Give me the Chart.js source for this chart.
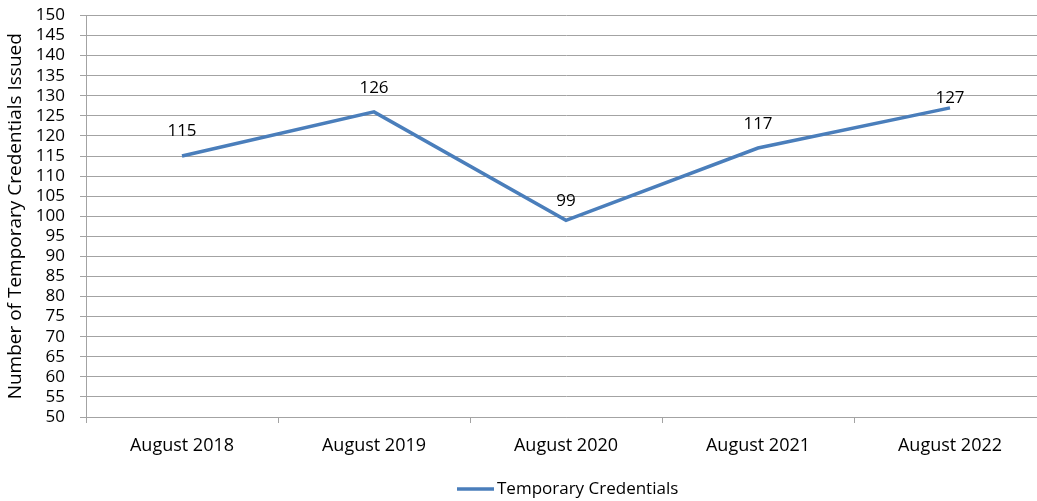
<!DOCTYPE html>
<html>
<head>
<meta charset="utf-8">
<script src="https://cdn.jsdelivr.net/npm/chart.js@4/dist/chart.umd.min.js"></script>
<style>
html,body{margin:0;padding:0;overflow:hidden;background:#fff;}
#wrap{width:1050px;height:501px;position:relative;}
</style>
</head>
<body>
<div id="wrap"><canvas id="c" width="1050" height="501"></canvas></div>
<script>
const categories = ["August 2018","August 2019","August 2020","August 2021","August 2022"];
const seriesLabel = "Temporary Credentials";
const values = [115, 126, 99, 117, 127];
const yMin = 50, yMax = 150, yStep = 5;
const yTitle = "Number of Temporary Credentials Issued";

const FONT = "'Open Sans', sans-serif";
const GRID = "#a3a3a3";
const LINE = "#4a7ebb";

const dataLabels = {
  id: 'dataLabels',
  afterDatasetsDraw(chart, args, opts) {
    const ctx = chart.ctx;
    const meta = chart.getDatasetMeta(0);
    ctx.save();
    ctx.font = "17px " + FONT;
    ctx.fillStyle = "#000";
    ctx.textAlign = "center";
    ctx.textBaseline = "middle";
    meta.data.forEach((pt, i) => {
      const off = opts.offsets[i];
      ctx.fillText(String(chart.data.datasets[0].data[i]), pt.x, pt.y - off);
    });
    ctx.restore();
  }
};

const customLegend = {
  id: 'customLegend',
  afterDraw(chart, args, opts) {
    const ctx = chart.ctx;
    const ds = chart.data.datasets[0];
    ctx.save();
    ctx.strokeStyle = ds.borderColor;
    ctx.lineWidth = 3.5;
    ctx.beginPath();
    ctx.moveTo(opts.x, opts.y);
    ctx.lineTo(opts.x + 37, opts.y);
    ctx.stroke();
    ctx.font = "17px " + FONT;
    ctx.fillStyle = "#000";
    ctx.textAlign = "left";
    ctx.textBaseline = "middle";
    ctx.fillText(ds.label, opts.x + 40, opts.y);
    ctx.restore();
  }
};

new Chart(document.getElementById('c'), {
  type: 'line',
  data: {
    labels: categories,
    datasets: [{
      label: seriesLabel,
      data: values,
      borderColor: LINE,
      backgroundColor: LINE,
      borderWidth: 3.5,
      pointRadius: 0,
      tension: 0,
      fill: false
    }]
  },
  options: {
    responsive: false,
    animation: false,
    layout: { padding: { left: 0, right: 4, top: 15.5, bottom: 0 } },
    plugins: {
      legend: { display: false },
      tooltip: { enabled: false },
      dataLabels: { offsets: [25, 24, 19, 24, 10] },
      customLegend: { x: 457, y: 489 }
    },
    scales: {
      x: {
        offset: true,
        grid: { display: true, drawOnChartArea: false, drawTicks: true, tickLength: 6, offset: true, color: GRID },
        border: { display: true, color: GRID, width: 1 },
        ticks: { color: "#000", font: { family: FONT, size: 18 }, padding: 12, maxRotation: 0, autoSkip: false },
        afterFit(s) { s.height = 84; s.paddingLeft = 0; s.paddingRight = 0; }
      },
      y: {
        min: yMin, max: yMax,
        grid: { color: GRID, lineWidth: 1, tickLength: 6, drawTicks: true },
        border: { display: true, color: GRID, width: 1 },
        ticks: { stepSize: yStep, color: "#000", font: { family: FONT, size: 17 }, padding: 15, autoSkip: false },
        title: { display: true, text: yTitle, color: "#000", font: { family: FONT, size: 19 }, padding: { top: 4, bottom: 0 } },
        afterFit(s) { s.width = 86; s.paddingTop = 0; s.paddingBottom = 0; }
      }
    }
  },
  plugins: [dataLabels, customLegend]
});
</script>
</body>
</html>
